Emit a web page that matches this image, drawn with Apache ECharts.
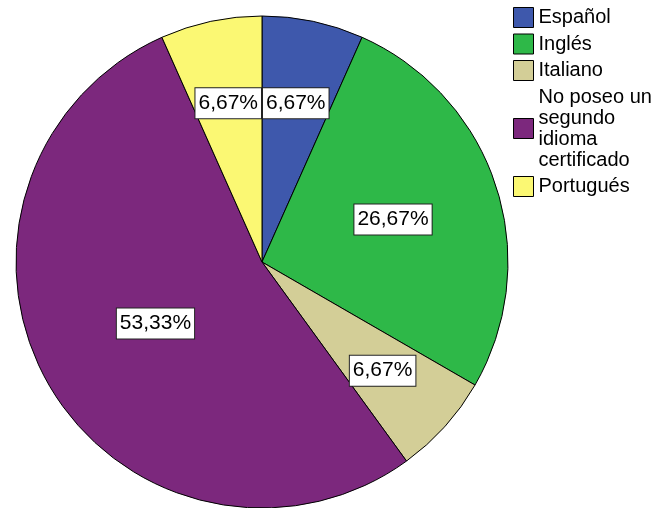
<!DOCTYPE html>
<html>
<head>
<meta charset="utf-8">
<script src="https://cdn.jsdelivr.net/npm/echarts@6/dist/echarts.min.js"></script>
<style>
html,body{margin:0;padding:0;background:#fff;}
#chart{width:658px;height:508px;}
</style>
</head>
<body>
<div id="chart"></div>
<script>
const categories = ['Español', 'Inglés', 'Italiano', 'No poseo un segundo idioma certificado', 'Portugués'];
const legendLabels = ['Español', 'Inglés', 'Italiano', 'No poseo un\nsegundo\nidioma\ncertificado', 'Portugués'];
const percentages = [6.67, 26.67, 6.67, 53.33, 6.67];
const percentLabels = ['6,67%', '26,67%', '6,67%', '53,33%', '6,67%'];
const colors = ['#3E58AC', '#2EB848', '#D3CE97', '#7C287D', '#FBF873'];
const labelRadiusFraction = [0.66, 0.56, 0.66, 0.50, 0.66];

const CX = 262, CY = 262, R = 246;
const total = percentages.reduce((a, b) => a + b, 0);

const chart = echarts.init(document.getElementById('chart'), null, {renderer: 'canvas'});
chart.setOption({
  animation: false,
  color: colors,
  legend: {
    orient: 'vertical',
    left: 508,
    top: 2,
    itemWidth: 20,
    itemHeight: 20,
    itemGap: 5.5,
    icon: 'rect',
    itemStyle: {borderColor: '#000', borderWidth: 1},
    formatter: function (name) { return legendLabels[categories.indexOf(name)]; },
    textStyle: {fontFamily: 'Liberation Sans, Arial, sans-serif', fontSize: 20, lineHeight: 21, color: '#000'},
    data: categories
  },
  series: [{
    type: 'pie',
    center: [CX, CY],
    radius: R,
    startAngle: 90,
    clockwise: true,
    avoidLabelOverlap: false,
    itemStyle: {borderColor: '#000', borderWidth: 1},
    emphasis: {disabled: true},
    label: {
      show: true,
      position: 'inside',
      formatter: function (p) { return percentLabels[p.dataIndex]; },
      fontFamily: 'Liberation Sans, Arial, sans-serif',
      fontSize: 21,
      color: '#000',
      backgroundColor: '#fff',
      borderColor: '#222',
      borderWidth: 1,
      padding: [5, 3, 4, 3]
    },
    labelLine: {show: false},
    labelLayout: function (params) {
      const i = params.dataIndex;
      let before = 0;
      for (let k = 0; k < i; k++) before += percentages[k];
      const mid = (before + percentages[i] / 2) / total * 2 * Math.PI;
      const r = R * labelRadiusFraction[i];
      return {
        x: CX + r * Math.sin(mid),
        y: CY - r * Math.cos(mid),
        align: 'center',
        verticalAlign: 'middle'
      };
    },
    data: categories.map((c, i) => ({name: c, value: percentages[i]}))
  }]
});
</script>
</body>
</html>
